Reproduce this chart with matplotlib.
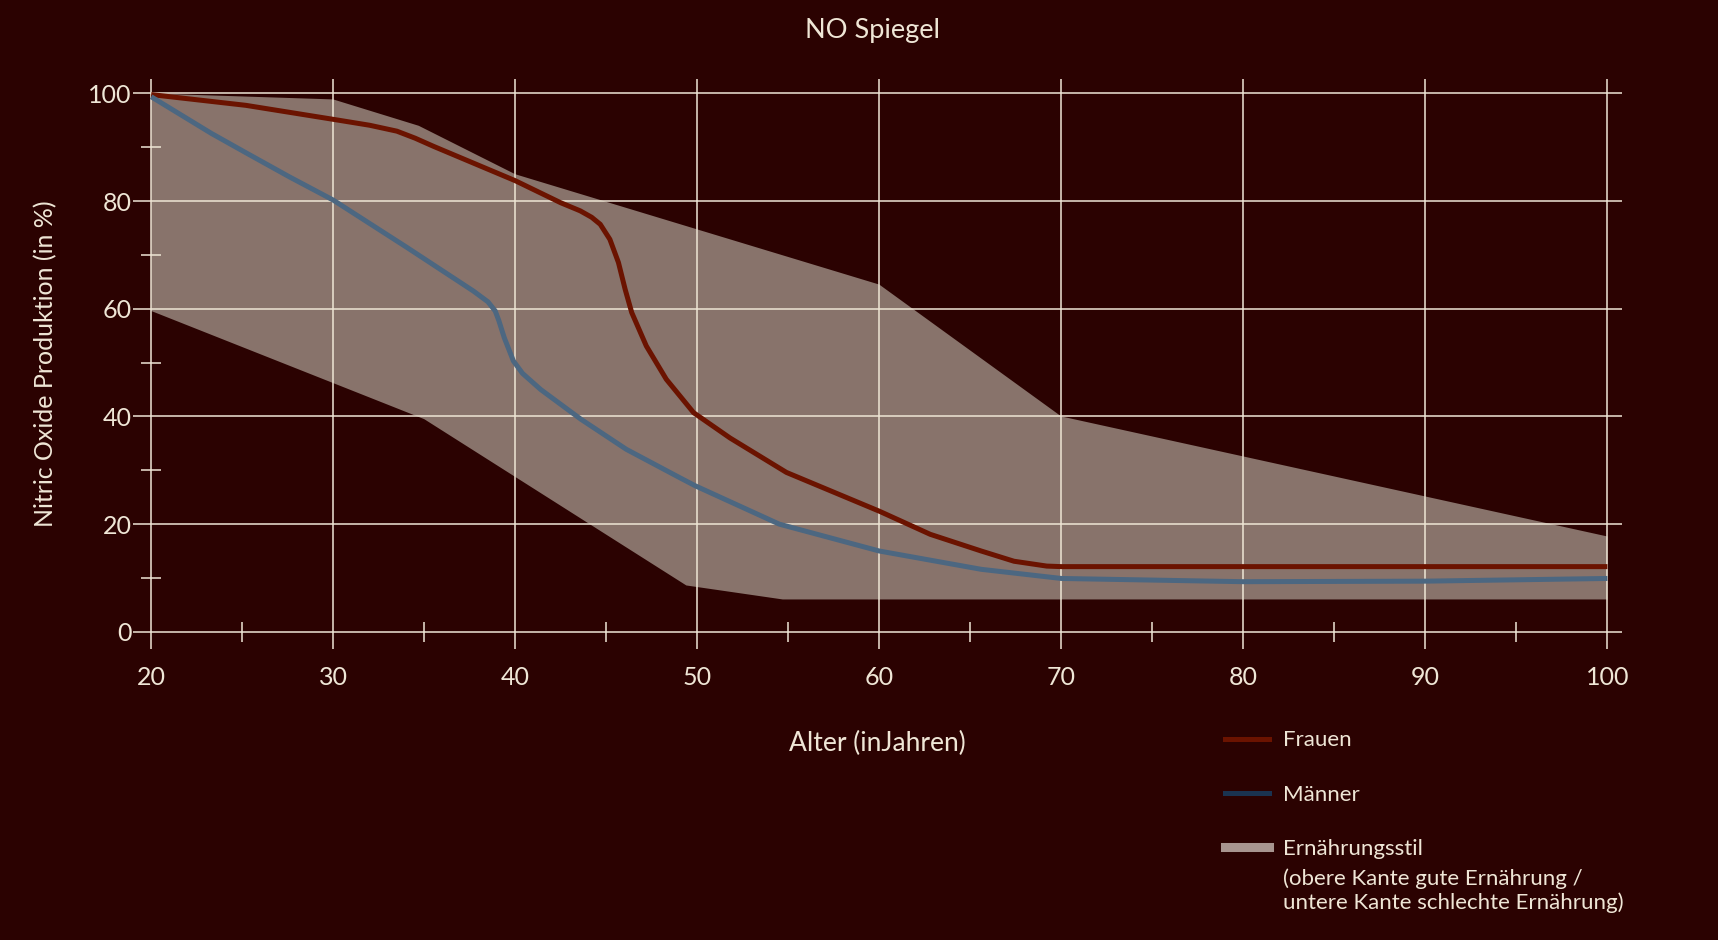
import matplotlib

matplotlib.use("Agg")
import matplotlib.pyplot as plt
from matplotlib.lines import Line2D

# Werte
age_frauen = [20, 25.2, 30, 32, 33.5, 34.5, 35.5, 40, 42.5, 43.57, 44.2, 44.67, 45.2, 45.67,
              46.04, 46.4, 47.2, 48.3, 49.8, 51.8, 54.9, 60, 62.8, 65.6, 67.4, 69.2, 70, 100]
no_frauen = [99.8, 97.8, 95.2, 94.1, 93.0, 91.7, 90.2, 83.8, 79.7, 78.2, 77.0, 75.7, 72.9, 68.6,
             63.6, 59.3, 53.1, 46.9, 40.7, 36.0, 29.6, 22.4, 18.1, 15.0, 13.1, 12.2, 12.1, 12.1]

age_maenner = [20, 23.3, 25.2, 27.6, 30, 34.05, 37.7, 38.5, 38.9, 39.1, 39.4, 39.9, 40.4, 41.4,
               43.6, 46.1, 49.05, 49.9, 54.5, 60, 65.6, 70, 80, 90, 100]
no_maenner = [99.4, 92.6, 89.0, 84.5, 80.2, 71.4, 63.3, 61.3, 59.6, 57.8, 54.6, 50.3, 48.0, 45.0,
              39.5, 33.9, 28.6, 27.1, 20.0, 15.0, 11.6, 9.9, 9.3, 9.4, 9.9]

# Ernährungsstil: obere Kante gute, untere Kante schlechte Ernährung
age_gut = [20, 30, 34.7, 40, 60, 70, 100]
no_gut = [100, 98.9, 94.0, 85.0, 64.5, 40.0, 17.7]
age_schlecht = [20, 35, 49.4, 54.7, 100]
no_schlecht = [59.6, 39.5, 8.6, 6.0, 6.0]

x_ticks = [20, 30, 40, 50, 60, 70, 80, 90, 100]
x_minor = [25, 35, 45, 55, 65, 75, 85, 95]
y_ticks = [0, 20, 40, 60, 80, 100]
y_minor = [10, 30, 50, 70, 90]

BG = "#2b0201"
CREAM = "#efe6d6"
FILL = "#88736b"
RED = "#6b1300"
BLUE = "#4c6781"
NAVY = "#1a3350"

plt.rcParams["font.family"] = ["Lato", "DejaVu Sans"]
plt.rcParams["font.size"] = 16

fig = plt.figure(figsize=(17.18, 9.4), dpi=100, facecolor=BG)
ax = fig.add_axes([0.0774, 0.3096, 0.8667, 0.6064])
ax.set_facecolor(BG)

ax.fill(age_gut + age_schlecht[::-1], no_gut + no_schlecht[::-1], color=FILL, lw=0, zorder=1)

for y in y_ticks:
    ax.axhline(y, color=CREAM, lw=1.1, zorder=2)
for x in x_ticks:
    ax.axvline(x, color=CREAM, lw=1.1, zorder=2)

ax.plot(age_frauen, no_frauen, color=RED, lw=3.6, solid_capstyle="butt",
        solid_joinstyle="round", zorder=3)
ax.plot(age_maenner, no_maenner, color=BLUE, lw=3.6, solid_capstyle="butt",
        solid_joinstyle="round", zorder=3)

ax.set_xlim(19.0, 100.8)
ax.set_ylim(-3.2, 102.7)

for s in ax.spines.values():
    s.set_visible(False)
ax.spines["left"].set_position(("data", 20))
ax.spines["bottom"].set_position(("data", 0))

ax.set_xticks(x_ticks)
ax.set_xticks(x_minor, minor=True)
ax.set_yticks(y_ticks)
ax.set_yticks(y_minor, minor=True)
ax.tick_params(which="major", length=0, colors=CREAM, labelsize=18)
ax.tick_params(axis="x", which="major", pad=25)
ax.tick_params(axis="y", which="major", pad=14)
ax.tick_params(which="minor", length=14, width=1.1, direction="inout", color=CREAM)

ax.set_xlabel("Alter (inJahren)", color=CREAM, fontsize=19, labelpad=30)
ax.set_ylabel("Nitric Oxide Produktion (in %)", color=CREAM, fontsize=18, labelpad=22)

fig.text(0.5076, 0.968, "NO Spiegel", color=CREAM, fontsize=19.5, ha="center", va="center")

handles = [
    Line2D([], [], color=RED, lw=3.6),
    Line2D([], [], color=NAVY, lw=3.6),
    Line2D([], [], color="#a8958f", lw=6.5),
]
fig.legend(handles, ["Frauen", "Männer", "Ernährungsstil"], loc="upper left",
           bbox_to_anchor=(0.713, 0.223), frameon=False, borderpad=0, borderaxespad=0,
           handlelength=2.0, handletextpad=0.6, labelspacing=1.55, labelcolor=CREAM,
           fontsize=16)
fig.text(0.7468, 0.0527, "(obere Kante gute Ernährung /\nuntere Kante schlechte Ernährung)",
         color=CREAM, fontsize=16, ha="left", va="center", linespacing=1.2)

fig.savefig("out.png", dpi=100, facecolor=BG)
